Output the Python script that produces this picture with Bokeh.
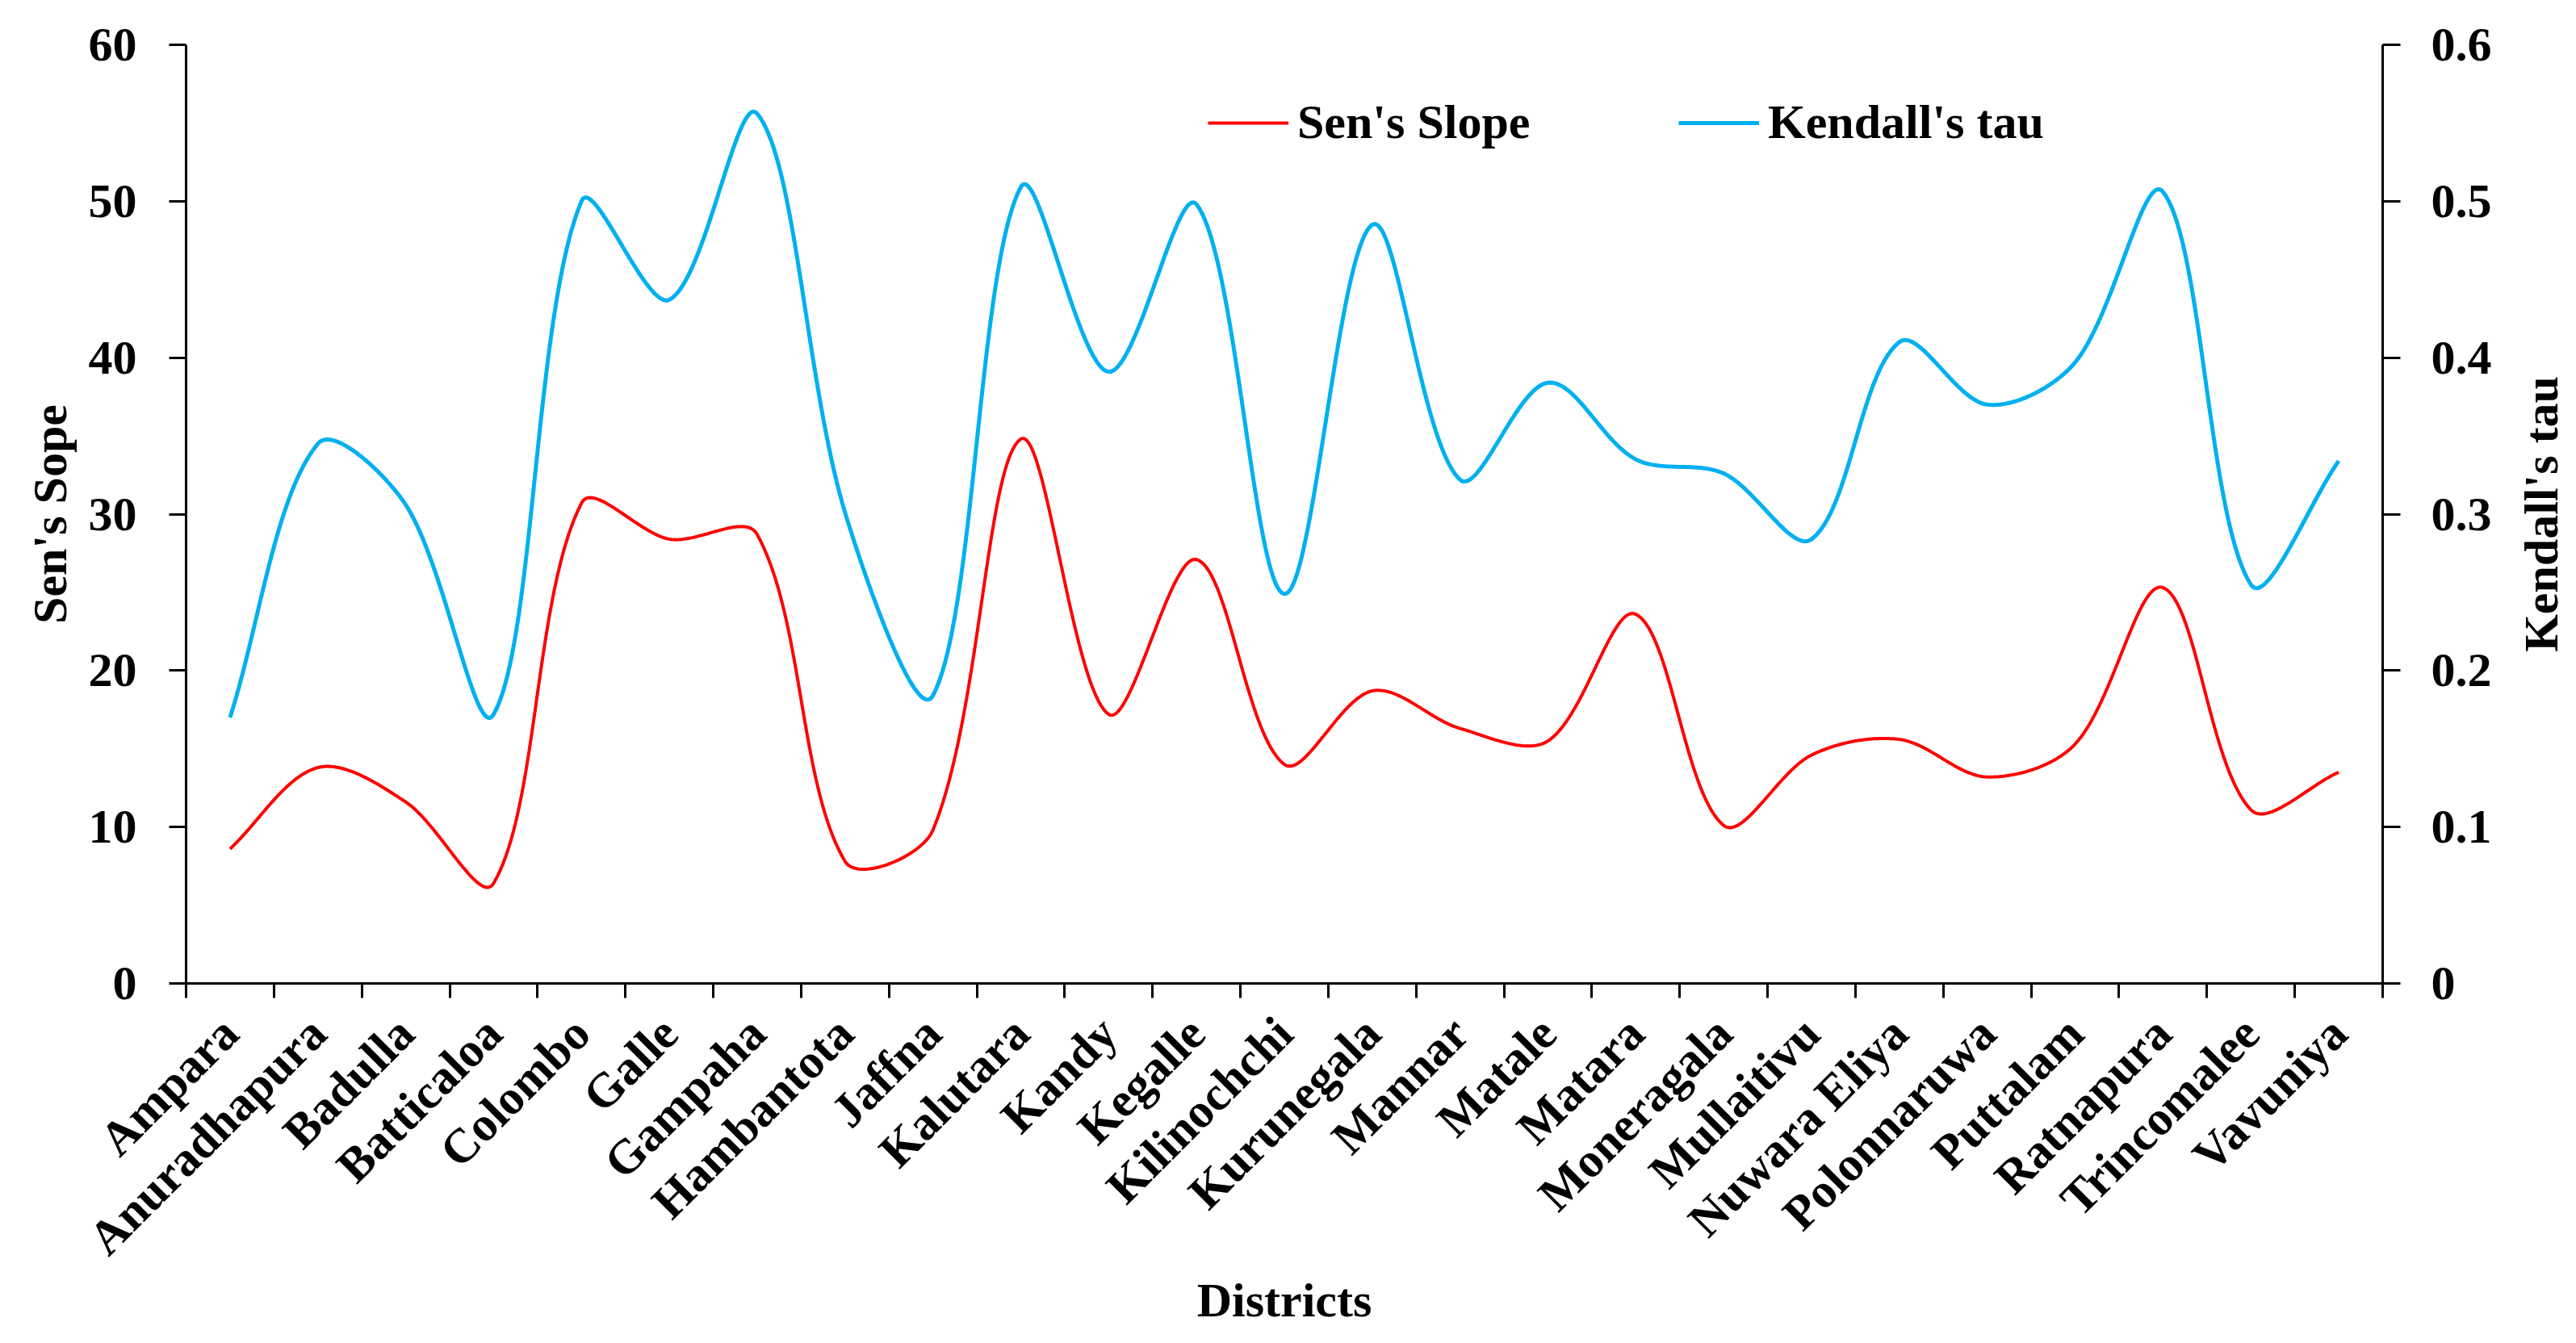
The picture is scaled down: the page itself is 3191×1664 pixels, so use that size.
import numpy as np
from bokeh.plotting import figure
from bokeh.layouts import row
from bokeh.models import (Range1d, LinearAxis, FixedTicker, Legend, LegendItem)
from bokeh.embed import file_html
from bokeh.resources import INLINE

districts = ["Ampara", "Anuradhapura", "Badulla", "Batticaloa", "Colombo", "Galle",
             "Gampaha", "Hambantota", "Jaffna", "Kalutara", "Kandy", "Kegalle",
             "Kilinochchi", "Kurunegala", "Mannar", "Matale", "Matara", "Moneragala",
             "Mullaitivu", "Nuwara Eliya", "Polonnaruwa", "Puttalam", "Ratnapura",
             "Trincomalee", "Vavuniya"]
sens_slope = [8.6, 13.8, 11.6, 6.4, 30.7, 28.4, 28.7, 7.8, 9.8, 34.8, 17.2, 27.1, 14.0,
              18.7, 16.3, 15.5, 23.6, 10.1, 14.6, 15.6, 13.2, 15.3, 25.3, 11.1, 13.5]
kendalls_tau = [0.170, 0.345, 0.306, 0.172, 0.500, 0.437, 0.556, 0.301, 0.184, 0.509,
                0.391, 0.498, 0.249, 0.485, 0.322, 0.384, 0.335, 0.326, 0.284, 0.410,
                0.370, 0.397, 0.506, 0.255, 0.334]
left_ticks = [0, 10, 20, 30, 40, 50, 60]
right_ticks = [0, 0.1, 0.2, 0.3, 0.4, 0.5, 0.6]
right_labels = ["0", "0.1", "0.2", "0.3", "0.4", "0.5", "0.6"]

FONT = "Liberation Serif"
FS = "60px"

TOTAL_W, H = 3191, 1664
W2 = 80                       # narrow strip holding the right axis title
W = TOTAL_W - W2
BL, BT, BB = 230, 55, 446
BR = W - 2951
FW, FH = W - BL - BR, H - BT - BB

n = len(districts)
centers = [i + 0.5 for i in range(n)]
bounds = list(range(n + 1))


def smooth(xs, ys, xscale, yscale, steps=40, tension=1.0 / 3.0):
    """Excel-like smoothed line: Bezier with chord-length-weighted handles."""
    P = np.column_stack([np.asarray(xs, float), np.asarray(ys, float)])
    S = P * np.array([xscale, yscale])
    m = len(P)
    cin = [None] * m
    cout = [None] * m
    for i in range(m):
        a = max(i - 1, 0)
        b = min(i + 1, m - 1)
        d01 = np.linalg.norm(S[i] - S[a])
        d12 = np.linalg.norm(S[b] - S[i])
        tot = d01 + d12
        if tot == 0:
            cin[i] = cout[i] = P[i]
            continue
        tv = P[b] - P[a]
        cin[i] = P[i] - tension * d01 / tot * tv
        cout[i] = P[i] + tension * d12 / tot * tv
    t = np.linspace(0, 1, steps)[:, None]
    ox, oy = [], []
    for i in range(m - 1):
        p0, c1, c2, p3 = P[i], cout[i], cin[i + 1], P[i + 1]
        bz = (1 - t) ** 3 * p0 + 3 * (1 - t) ** 2 * t * c1 + 3 * (1 - t) * t ** 2 * c2 + t ** 3 * p3
        if i > 0:
            bz = bz[1:]
        ox.extend(bz[:, 0])
        oy.extend(bz[:, 1])
    return ox, oy


def style_axis(ax):
    ax.axis_line_width = 3
    ax.axis_line_color = "black"
    ax.major_tick_line_width = 3
    ax.major_tick_line_color = "black"
    ax.major_label_text_font = FONT
    ax.major_label_text_font_style = "bold"
    ax.major_label_text_font_size = FS
    ax.major_label_text_color = "black"
    ax.axis_label_text_font = FONT
    ax.axis_label_text_font_style = "bold"
    ax.axis_label_text_font_size = FS
    ax.axis_label_text_color = "black"


p = figure(width=W, height=H, output_backend="svg", toolbar_location=None,
           x_range=Range1d(0, n), y_range=Range1d(0, 60),
           min_border_left=BL, min_border_right=BR, min_border_top=BT,
           min_border_bottom=BB, x_axis_type=None, y_axis_type=None)
p.outline_line_color = None
p.background_fill_color = "white"
p.border_fill_color = "white"
p.extra_y_ranges = {"tau": Range1d(0, 0.6)}

# bottom axis
xa = LinearAxis(ticker=FixedTicker(ticks=centers, minor_ticks=bounds),
                major_label_overrides={c: d for c, d in zip(centers, districts)})
style_axis(xa)
xa.major_tick_line_color = None
xa.major_tick_out = 0
xa.major_tick_in = 0
xa.minor_tick_line_color = "black"
xa.minor_tick_line_width = 3
xa.minor_tick_out = 18
xa.minor_tick_in = 0
xa.major_label_orientation = np.pi / 4
xa.major_label_standoff = 34
xa.axis_label = "Districts"
xa.axis_label_standoff = -16
p.add_layout(xa, "below")

# left axis
ya = LinearAxis(ticker=FixedTicker(ticks=left_ticks))
style_axis(ya)
ya.major_tick_out = 21
ya.major_tick_in = 0
ya.minor_tick_line_color = None
ya.major_label_standoff = 40
ya.axis_label = "Sen's Sope"
ya.axis_label_standoff = 12
p.add_layout(ya, "left")

# right axis
ra = LinearAxis(y_range_name="tau", ticker=FixedTicker(ticks=right_ticks),
                major_label_overrides={t: l for t, l in zip(right_ticks, right_labels)})
style_axis(ra)
ra.major_tick_out = 22
ra.major_tick_in = 0
ra.minor_tick_line_color = None
ra.major_label_standoff = 38
p.add_layout(ra, "right")

p.ygrid.ticker = FixedTicker(ticks=left_ticks)
p.ygrid.grid_line_color = "#d9d9d9"
p.ygrid.grid_line_width = 2
p.xgrid.visible = False

xs_px = FW / n
sx, sy = smooth(centers, sens_slope, xs_px, FH / 60.0)
tx, ty = smooth(centers, kendalls_tau, xs_px, FH / 0.6)
r1 = p.line(sx, sy, line_color="#FF0000", line_width=4)
r2 = p.line(tx, ty, line_color="#00B0F0", line_width=5, y_range_name="tau")

legend = Legend(items=[LegendItem(label="Sen's Slope", renderers=[r1]),
                       LegendItem(label="Kendall's tau", renderers=[r2])],
                orientation="horizontal", location=(1266, FH - 62 - 69),
                border_line_color=None, background_fill_alpha=0,
                padding=0, margin=0, spacing=172, glyph_width=100, glyph_height=40,
                label_standoff=11, label_width=300,
                label_text_font=FONT, label_text_font_style="bold",
                label_text_font_size=FS, label_text_color="black")
p.add_layout(legend, "center")

# narrow strip: its left-side axis carries the right title, reading bottom-to-top
B2L = 70
p2 = figure(width=W2, height=H, output_backend="svg", toolbar_location=None,
            x_range=Range1d(0, 1), y_range=Range1d(0, 0.6),
            min_border_left=B2L, min_border_right=0, min_border_top=BT,
            min_border_bottom=BB, x_axis_type=None, y_axis_type=None)
p2.outline_line_color = None
p2.background_fill_color = "white"
p2.border_fill_color = "white"
p2.xgrid.visible = False
p2.ygrid.visible = False
ta = LinearAxis(ticker=FixedTicker(ticks=[]))
style_axis(ta)
ta.axis_line_color = None
ta.major_tick_line_color = None
ta.minor_tick_line_color = None
ta.major_tick_out = 0
ta.major_tick_in = 0
ta.major_label_standoff = 0
ta.axis_label = "Kendall's tau"
ta.axis_label_standoff = (W + B2L) - 3143 - 34
p2.add_layout(ta, "left")

layout = row(p, p2, spacing=0)
open("out.html", "w").write(file_html(layout, INLINE))
